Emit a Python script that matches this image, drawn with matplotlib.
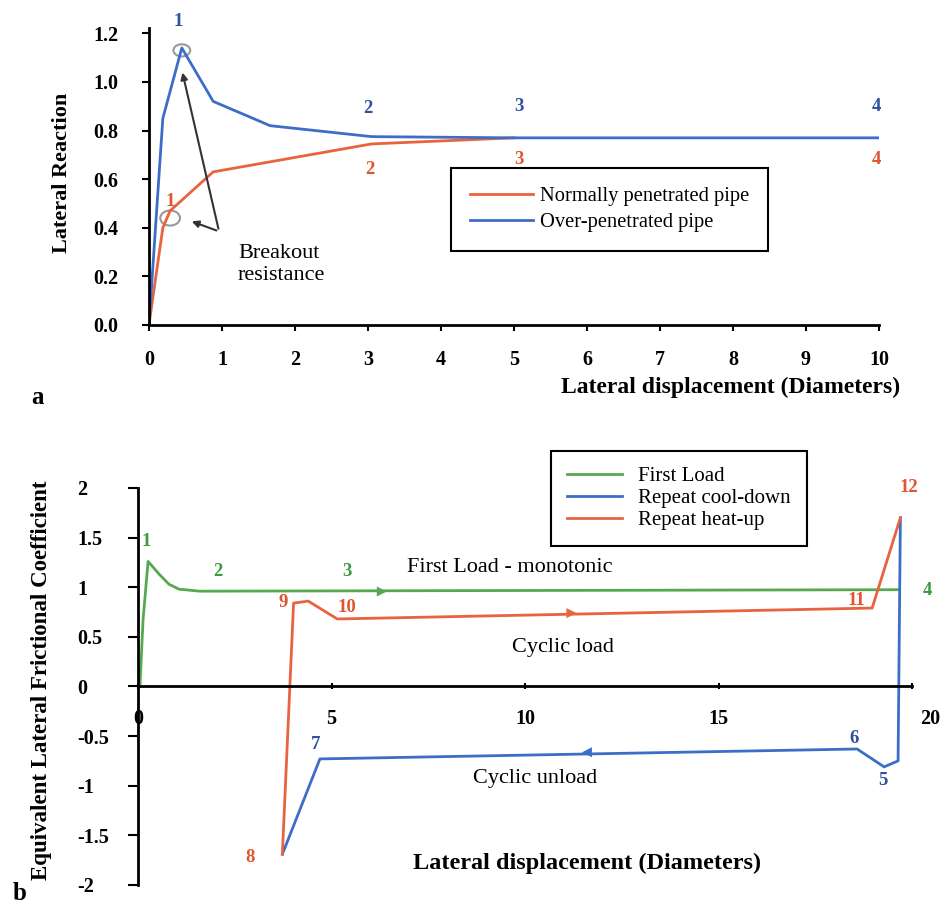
import matplotlib
matplotlib.use("Agg")
import matplotlib.pyplot as plt
import matplotlib.transforms as mtrans
from matplotlib.patches import Ellipse

plt.rcParams['font.family'] = ['Liberation Serif', 'DejaVu Serif']

# ---------------- data (panel a) ----------------
over_x = [0, 0.19, 0.45, 0.88, 1.66, 3.05, 5.0, 10.0]
over_y = [0, 0.85, 1.14, 0.92, 0.82, 0.775, 0.77, 0.77]
normal_x = [0, 0.19, 0.29, 0.88, 3.05, 5.0]
normal_y = [0, 0.40, 0.47, 0.63, 0.745, 0.77]
a_xticks = [0, 1, 2, 3, 4, 5, 6, 7, 8, 9, 10]
a_yticks = [0.0, 0.2, 0.4, 0.6, 0.8, 1.0, 1.2]
a_ytick_labels = ['0.0', '0.2', '0.4', '0.6', '0.8', '1.0', '1.2']
over_lbl = ['1', '2', '3', '4']
over_lbl_x = [0.40, 3.0, 5.07, 9.97]
over_lbl_y = [1.25, 0.89, 0.90, 0.90]
normal_lbl = ['1', '2', '3', '4']
normal_lbl_x = [0.29, 3.03, 5.07, 9.97]
normal_lbl_y = [0.51, 0.64, 0.68, 0.68]

# ---------------- data (panel b) ----------------
first_x = [0.05, 0.13, 0.26, 0.55, 0.80, 1.06, 1.6, 19.66]
first_y = [0.0, 0.67, 1.26, 1.13, 1.03, 0.98, 0.96, 0.975]
heat_x = [3.73, 4.02, 4.4, 5.15, 18.97, 19.7]
heat_y = [-1.69, 0.84, 0.86, 0.68, 0.79, 1.70]
cool_x = [19.7, 19.64, 19.28, 18.58, 4.7, 3.73]
cool_y = [1.70, -0.75, -0.81, -0.63, -0.73, -1.69]
b_xticks = [0, 5, 10, 15, 20]
b_yticks = [-2, -1.5, -1, -0.5, 0, 0.5, 1, 1.5, 2]
b_ytick_labels = ['-2', '-1.5', '-1', '-0.5', '0', '0.5', '1', '1.5', '2']
first_lbl = ['1', '2', '3', '4']
first_lbl_x = [0.2, 2.06, 5.4, 20.4]
first_lbl_y = [1.46, 1.16, 1.16, 0.97]
heat_lbl = ['8', '9', '10', '11', '12']
heat_lbl_x = [2.9, 3.74, 5.4, 18.55, 19.92]
heat_lbl_y = [-1.72, 0.85, 0.80, 0.87, 2.0]
cool_lbl = ['5', '6', '7']
cool_lbl_x = [19.25, 18.5, 4.6]
cool_lbl_y = [-0.95, -0.52, -0.58]

RED = '#E8643F'
BLUE = '#3C6EC8'
GREEN = '#55AA50'
RED_T = '#E0552E'
BLUE_T = '#2F4F9F'
GREEN_T = '#3E9A3E'

TICK_FS = 14.5
NUM_FS = 13.5
ANN_FS = 16

fig = plt.figure(figsize=(9.44, 9.07), dpi=100)
fig.patch.set_facecolor('white')

# ================= panel a =================
ax1 = fig.add_axes([0.1578, 0.6417, 0.7733, 0.3269])
l_norm, = ax1.plot(normal_x, normal_y, color=RED, lw=2.0, label='Normally penetrated pipe')
l_over, = ax1.plot(over_x, over_y, color=BLUE, lw=2.0, label='Over-penetrated pipe')
ax1.set_xlim(0, 10)
ax1.set_ylim(0, 1.22)
for s in ['top', 'right']:
    ax1.spines[s].set_visible(False)
for s in ['left', 'bottom']:
    ax1.spines[s].set_linewidth(2.0)
ax1.set_xticks(a_xticks)
ax1.set_xticklabels([str(v) for v in a_xticks])
ax1.set_yticks(a_yticks)
ax1.set_yticklabels(a_ytick_labels)
ax1.tick_params(axis='x', direction='out', length=4, width=1.5, pad=14, labelsize=TICK_FS)
ax1.tick_params(axis='y', direction='out', length=5, width=1.5, pad=17, labelsize=TICK_FS)
for lab in ax1.get_xticklabels() + ax1.get_yticklabels():
    lab.set_fontweight('bold')

for t, x, y in zip(over_lbl, over_lbl_x, over_lbl_y):
    ax1.text(x, y, t, color=BLUE_T, fontsize=NUM_FS, fontweight='bold', ha='center', va='center')
for t, x, y in zip(normal_lbl, normal_lbl_x, normal_lbl_y):
    ax1.text(x, y, t, color=RED_T, fontsize=NUM_FS, fontweight='bold', ha='center', va='center')

# breakout markers
ax1.add_patch(Ellipse((0.45, 1.13), 0.23, 0.05, fill=False, ec='#999999', lw=1.5))
ax1.add_patch(Ellipse((0.29, 0.44), 0.27, 0.062, fill=False, ec='#999999', lw=1.5))
ax1.annotate('', xy=(0.45, 1.05), xytext=(0.96, 0.385),
             arrowprops=dict(arrowstyle='-|>', color='#333333', lw=1.5, mutation_scale=10))
ax1.annotate('', xy=(0.55, 0.43), xytext=(0.96, 0.385),
             arrowprops=dict(arrowstyle='-|>', color='#333333', lw=1.5, mutation_scale=10))
ax1.text(1.22, 0.25, 'Breakout\nresistance', fontsize=ANN_FS, ha='left', va='center',
         linespacing=1.2)

ax1.legend(handles=[l_norm, l_over], loc='upper left',
           bbox_to_anchor=(451 / 944, 1 - 168 / 907), bbox_transform=fig.transFigure,
           fancybox=False, edgecolor='black', framealpha=1, handlelength=3.1,
           borderpad=0.9, labelspacing=0.35, handletextpad=0.35, borderaxespad=0,
           prop={'family': 'Liberation Serif', 'size': 14.8})
ax1.get_legend().get_frame().set_linewidth(1.5)

fig.text(900 / 944, 1 - 387 / 907, 'Lateral displacement (Diameters)', fontsize=17,
         fontweight='bold', ha='right', va='center')
fig.text(62 / 944, 1 - 173 / 907, 'Lateral Reaction', fontsize=16, fontweight='bold',
         rotation=90, ha='center', va='center')
fig.text(37 / 944, 1 - 398 / 907, 'a', fontsize=18, fontweight='bold', ha='center', va='center')

# ================= panel b =================
ax2 = fig.add_axes([0.1462, 0.0243, 0.8199, 0.4377])
l_first, = ax2.plot(first_x, first_y, color=GREEN, lw=2.0, label='First Load')
l_cool, = ax2.plot(cool_x, cool_y, color=BLUE, lw=2.0, label='Repeat cool-down')
l_heat, = ax2.plot(heat_x, heat_y, color=RED, lw=2.0, label='Repeat heat-up')
ax2.set_xlim(0, 20)
ax2.set_ylim(-2, 2)
for s in ['top', 'right']:
    ax2.spines[s].set_visible(False)
ax2.spines['bottom'].set_position(('data', 0))
for s in ['left', 'bottom']:
    ax2.spines[s].set_linewidth(2.0)
ax2.set_xticks(b_xticks)
ax2.set_xticklabels([str(v) for v in b_xticks])
ax2.set_yticks(b_yticks)
ax2.set_yticklabels(b_ytick_labels)
ax2.tick_params(axis='x', direction='inout', length=5, width=1.5, pad=14, labelsize=TICK_FS)
ax2.tick_params(axis='y', direction='out', length=7, width=1.5, pad=37, labelsize=TICK_FS)
for lab in ax2.get_xticklabels() + ax2.get_yticklabels():
    lab.set_fontweight('bold')
for lab in ax2.get_yticklabels():
    lab.set_horizontalalignment('left')
xl = ax2.get_xticklabels()
xl[-1].set_transform(xl[-1].get_transform() + mtrans.ScaledTranslation(0.18, 0, fig.dpi_scale_trans))

for t, x, y in zip(first_lbl, first_lbl_x, first_lbl_y):
    ax2.text(x, y, t, color=GREEN_T, fontsize=NUM_FS, fontweight='bold', ha='center', va='center')
for t, x, y in zip(heat_lbl, heat_lbl_x, heat_lbl_y):
    ax2.text(x, y, t, color=RED_T, fontsize=NUM_FS, fontweight='bold', ha='center', va='center')
for t, x, y in zip(cool_lbl, cool_lbl_x, cool_lbl_y):
    ax2.text(x, y, t, color=BLUE_T, fontsize=NUM_FS, fontweight='bold', ha='center', va='center')

# direction arrows
ax2.annotate('', xy=(6.5, 0.957), xytext=(5.8, 0.957),
             arrowprops=dict(arrowstyle='-|>', color=GREEN, lw=0, mutation_scale=18))
ax2.annotate('', xy=(11.4, 0.74), xytext=(10.7, 0.738),
             arrowprops=dict(arrowstyle='-|>', color=RED, lw=0, mutation_scale=18))
ax2.annotate('', xy=(11.4, -0.665), xytext=(12.1, -0.66),
             arrowprops=dict(arrowstyle='-|>', color=BLUE, lw=0, mutation_scale=18))

ax2.text(6.96, 1.2, 'First Load - monotonic', fontsize=ANN_FS, ha='left', va='center')
ax2.text(9.66, 0.39, 'Cyclic load', fontsize=ANN_FS, ha='left', va='center')
ax2.text(8.66, -0.93, 'Cyclic unload', fontsize=ANN_FS, ha='left', va='center')

ax2.legend(handles=[l_first, l_cool, l_heat], loc='upper left',
           bbox_to_anchor=(551 / 944, 1 - 451 / 907), bbox_transform=fig.transFigure,
           fancybox=False, edgecolor='black', framealpha=1, handlelength=2.65,
           borderpad=0.75, labelspacing=0.12, handletextpad=0.8, borderaxespad=0,
           prop={'family': 'Liberation Serif', 'size': 15})
ax2.get_legend().get_frame().set_linewidth(1.5)

fig.text(587 / 944, 1 - 863 / 907, 'Lateral displacement (Diameters)', fontsize=17.5,
         fontweight='bold', ha='center', va='center')
fig.text(42 / 944, 1 - 680 / 907, 'Equivalent Lateral Frictional Coefficient', fontsize=16.5,
         fontweight='bold', rotation=90, ha='center', va='center')
fig.text(20 / 944, 1 - 893 / 907, 'b', fontsize=18, fontweight='bold', ha='center', va='center')

fig.savefig('out.png', dpi=100, facecolor='white')
